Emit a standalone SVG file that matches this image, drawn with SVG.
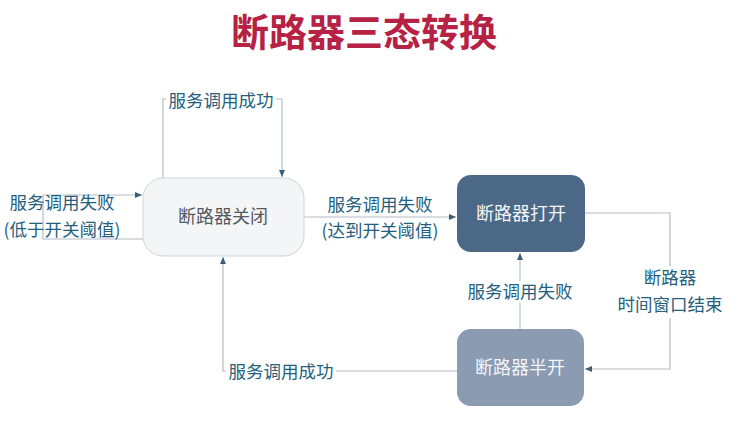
<svg xmlns="http://www.w3.org/2000/svg" width="742" height="432" viewBox="0 0 742 432">
<style>
.title{font-family:"Noto Sans CJK SC","Noto Sans",sans-serif;font-weight:bold;font-size:38px;fill:#b52244}
.lbl{font-family:"Noto Sans CJK SC",sans-serif;font-size:17.5px;fill:#24607e}
.node{font-family:"Noto Sans CJK SC",sans-serif;font-size:18px}
.edge{fill:none;stroke:#b4bcc4;stroke-width:1.2}
.bg{fill:#ffffff}
</style>
<defs>
<marker id="arr" markerWidth="8" markerHeight="8" refX="7" refY="4" orient="auto" markerUnits="userSpaceOnUse">
<path d="M0,1 L7,4 L0,7 Z" fill="#3d5c7a"/>
</marker>
</defs>
<rect width="742" height="432" fill="#ffffff"/>
<text class="title" x="364" y="46" text-anchor="middle">断路器三态转换</text>
<g id="connectors">
<path class="edge" d="M163,178 V99 H282 V177" marker-end="url(#arr)"/>
<path class="edge" d="M143,239 H43 V195 H142" marker-end="url(#arr)"/>
<path class="edge" d="M304,217 H456" marker-end="url(#arr)"/>
<path class="edge" d="M585,213 H670 V369 H585" marker-end="url(#arr)"/>
<path class="edge" d="M520,329 V253" marker-end="url(#arr)"/>
<path class="edge" d="M457,371 H223 V257" marker-end="url(#arr)"/>
<rect class="bg" x="166" y="89" width="110" height="22"/>
<text class="lbl" x="221" y="107" text-anchor="middle">服务调用成功</text>
<text class="lbl" x="62" y="209" text-anchor="middle">服务调用失败</text>
<text class="lbl" x="62" y="236" text-anchor="middle">(低于开关阈值)</text>
<text class="lbl" x="380" y="211" text-anchor="middle">服务调用失败</text>
<text class="lbl" x="380" y="237" text-anchor="middle">(达到开关阈值)</text>
<rect class="bg" x="610" y="266" width="120" height="52"/>
<text class="lbl" x="670" y="284" text-anchor="middle">断路器</text>
<text class="lbl" x="670" y="311" text-anchor="middle">时间窗口结束</text>
<rect class="bg" x="465" y="281" width="110" height="22"/>
<text class="lbl" x="520" y="298" text-anchor="middle">服务调用失败</text>
<rect class="bg" x="226" y="361" width="110" height="22"/>
<text class="lbl" x="281" y="378" text-anchor="middle">服务调用成功</text>
</g>
<g id="closed">
<rect x="143" y="178" width="161" height="78" rx="20" fill="#f4f5f7" stroke="#cfd3d8" stroke-width="1"/>
<text class="node" x="223" y="223" text-anchor="middle" fill="#555a60">断路器关闭</text>
</g>
<g id="open">
<rect x="457" y="175" width="128" height="77" rx="14" fill="#4b6886"/>
<text class="node" x="521" y="220" text-anchor="middle" fill="#f2f4f7">断路器打开</text>
</g>
<g id="halfopen">
<rect x="457" y="329" width="127" height="77" rx="14" fill="#8a9bb2"/>
<text class="node" x="520" y="374" text-anchor="middle" fill="#f2f4f7">断路器半开</text>
</g>
</svg>
